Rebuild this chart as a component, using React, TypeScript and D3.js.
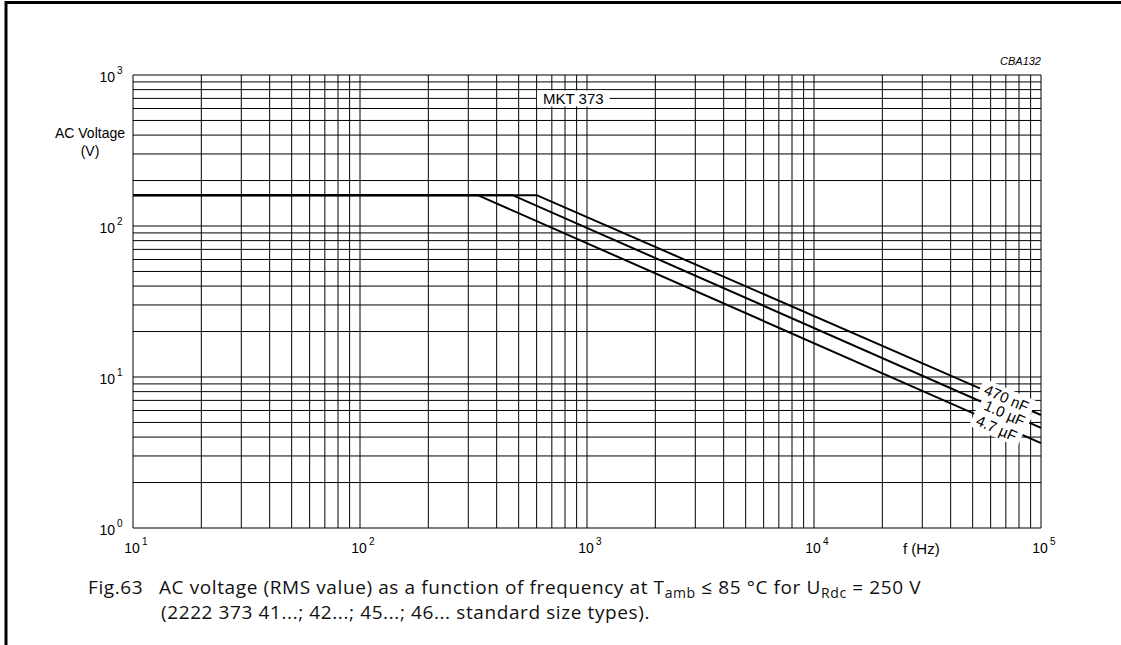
import * as d3 from "d3";
import { useEffect, useRef } from "react";

// Fig.63 MKT 373, AC voltage vs frequency (log-log)
const xTickExponents = [1, 2, 3, 4, 5];
const yTickExponents = [0, 1, 2, 3];

const curveNames = ["470 nF", "1.0 µF", "4.7 µF"];
const flatVoltages = [160, 160, 160];
const cornerFrequencies = [600, 470, 330];
const endFrequency = 100000;
const endVoltages = [5.6, 4.6, 3.65];
const labelFrequencies = [70600, 69300, 63800];
const labelVoltages = [7.26, 5.78, 4.59];

const seriesTitle = "MKT 373";
const seriesTitlePos = { f: 870, v: 700 };

const W = 1121;
const H = 645;
const margin = { top: 75, right: 80, bottom: 117, left: 133 };

const tickFont = "'Liberation Sans', Arial, sans-serif";
const captionFont = "'Open Sans', sans-serif";

export default function App() {
  const svgRef = useRef<SVGSVGElement>(null);

  useEffect(() => {
    if (!svgRef.current) return;
    const svg = d3.select(svgRef.current);
    svg.selectAll("*").remove();

    const x = d3
      .scaleLog()
      .domain([10, 1e5])
      .range([margin.left, W - margin.right]);
    const y = d3
      .scaleLog()
      .domain([1, 1000])
      .range([H - margin.bottom, margin.top]);

    const [x0, x1] = x.range();
    const [y0, y1] = y.range();

    // page frame (top + left only)
    svg
      .append("path")
      .attr("d", `M6,${H} V2.5 H${W}`)
      .attr("fill", "none")
      .attr("stroke", "#000")
      .attr("stroke-width", 3);

    // grid
    const grid = svg.append("g").attr("stroke", "#000").attr("stroke-width", 1);
    grid
      .selectAll(".vx")
      .data(x.ticks())
      .join("line")
      .attr("class", "vx")
      .attr("x1", (d) => x(d))
      .attr("x2", (d) => x(d))
      .attr("y1", y0)
      .attr("y2", y1);
    grid
      .selectAll(".hy")
      .data(y.ticks())
      .join("line")
      .attr("class", "hy")
      .attr("x1", x0)
      .attr("x2", x1)
      .attr("y1", (d) => y(d))
      .attr("y2", (d) => y(d));

    // y tick labels
    const yt = svg
      .append("g")
      .attr("font-family", tickFont)
      .attr("fill", "#000");
    yTickExponents.forEach((e) => {
      const py = y(Math.pow(10, e));
      yt.append("text")
        .attr("x", x0 - 18)
        .attr("y", py + 7)
        .attr("text-anchor", "end")
        .attr("font-size", 14)
        .text("10");
      yt.append("text")
        .attr("x", x0 - 16)
        .attr("y", py - 1)
        .attr("font-size", 10)
        .text(String(e));
    });

    // x tick labels
    const xt = svg
      .append("g")
      .attr("font-family", tickFont)
      .attr("fill", "#000");
    xTickExponents.forEach((e) => {
      const px = x(Math.pow(10, e));
      xt.append("text")
        .attr("x", px - 1)
        .attr("y", y0 + 25)
        .attr("text-anchor", "middle")
        .attr("font-size", 14)
        .text("10");
      xt.append("text")
        .attr("x", px + 9)
        .attr("y", y0 + 17)
        .attr("font-size", 10)
        .text(String(e));
    });

    // axis titles
    svg
      .append("text")
      .attr("x", 90)
      .attr("y", 138)
      .attr("text-anchor", "middle")
      .attr("font-family", tickFont)
      .attr("font-size", 14)
      .text("AC Voltage");
    svg
      .append("text")
      .attr("x", 90)
      .attr("y", 156)
      .attr("text-anchor", "middle")
      .attr("font-family", tickFont)
      .attr("font-size", 14)
      .text("(V)");
    svg
      .append("text")
      .attr("x", 903)
      .attr("y", y0 + 26)
      .attr("font-family", tickFont)
      .attr("font-size", 15)
      .text("f (Hz)");

    svg
      .append("text")
      .attr("x", x1)
      .attr("y", 65)
      .attr("text-anchor", "end")
      .attr("font-family", tickFont)
      .attr("font-style", "italic")
      .attr("font-size", 11)
      .text("CBA132");

    // series title with white box
    const mkt = svg
      .append("g")
      .attr(
        "transform",
        `translate(${x(seriesTitlePos.f)},${y(seriesTitlePos.v)})`,
      );
    const mktRect = mkt.append("rect").attr("fill", "#fff");
    const mktText = mkt
      .append("text")
      .attr("text-anchor", "middle")
      .attr("dominant-baseline", "central")
      .attr("font-family", tickFont)
      .attr("font-size", 15)
      .text(seriesTitle);
    const mw = (mktText.node() as SVGTextElement).getComputedTextLength();
    mktRect
      .attr("x", -mw / 2 - 6)
      .attr("y", -8)
      .attr("width", mw + 12)
      .attr("height", 16);

    // curves
    const line = d3
      .line<[number, number]>()
      .x((d) => x(d[0]))
      .y((d) => y(d[1]));
    curveNames.forEach((_, i) => {
      const pts: [number, number][] = [
        [10, flatVoltages[i]],
        [cornerFrequencies[i], flatVoltages[i]],
        [endFrequency, endVoltages[i]],
      ];
      svg
        .append("path")
        .attr("d", line(pts))
        .attr("fill", "none")
        .attr("stroke", "#000")
        .attr("stroke-width", 2);
    });

    // curve labels, rotated along the slope, white backing drawn first
    const backs = svg.append("g");
    const texts = svg.append("g");
    curveNames.forEach((name, i) => {
      const ang =
        (Math.atan2(
          y(endVoltages[i]) - y(flatVoltages[i]),
          x(endFrequency) - x(cornerFrequencies[i]),
        ) *
          180) /
        Math.PI;
      const tr = `translate(${x(labelFrequencies[i])},${y(labelVoltages[i])}) rotate(${ang})`;
      const t = texts
        .append("text")
        .attr("transform", tr)
        .attr("text-anchor", "middle")
        .attr("dominant-baseline", "central")
        .attr("font-family", tickFont)
        .attr("font-size", 15)
        .text(name);
      const w = (t.node() as SVGTextElement).getComputedTextLength();
      backs
        .append("rect")
        .attr("transform", tr)
        .attr("x", -w / 2 - 5)
        .attr("y", -9)
        .attr("width", w + 10)
        .attr("height", 18)
        .attr("fill", "#fff");
    });

    // caption
    const cap = svg
      .append("g")
      .attr("font-family", captionFont)
      .attr("font-size", 19)
      .attr("letter-spacing", 0.6)
      .attr("fill", "#111");
    cap.append("text").attr("x", 88).attr("y", 594).text("Fig.63");
    const l1 = cap.append("text").attr("x", 159).attr("y", 594);
    l1.append("tspan").text(
      "AC voltage (RMS value) as a function of frequency at T",
    );
    l1.append("tspan").attr("font-size", 14).attr("dy", 4).text("amb");
    l1.append("tspan").attr("dy", -4).text(" ≤ 85 °C for U");
    l1.append("tspan").attr("font-size", 14).attr("dy", 4).text("Rdc");
    l1.append("tspan").attr("dy", -4).text(" = 250 V");
    cap
      .append("text")
      .attr("x", 161)
      .attr("y", 619)
      .text("(2222 373 41...; 42...; 45...; 46... standard size types).");
  }, []);

  return (
    <svg
      ref={svgRef}
      width={W}
      height={H}
      style={{ position: "absolute", left: 0, top: 0, display: "block" }}
    />
  );
}
